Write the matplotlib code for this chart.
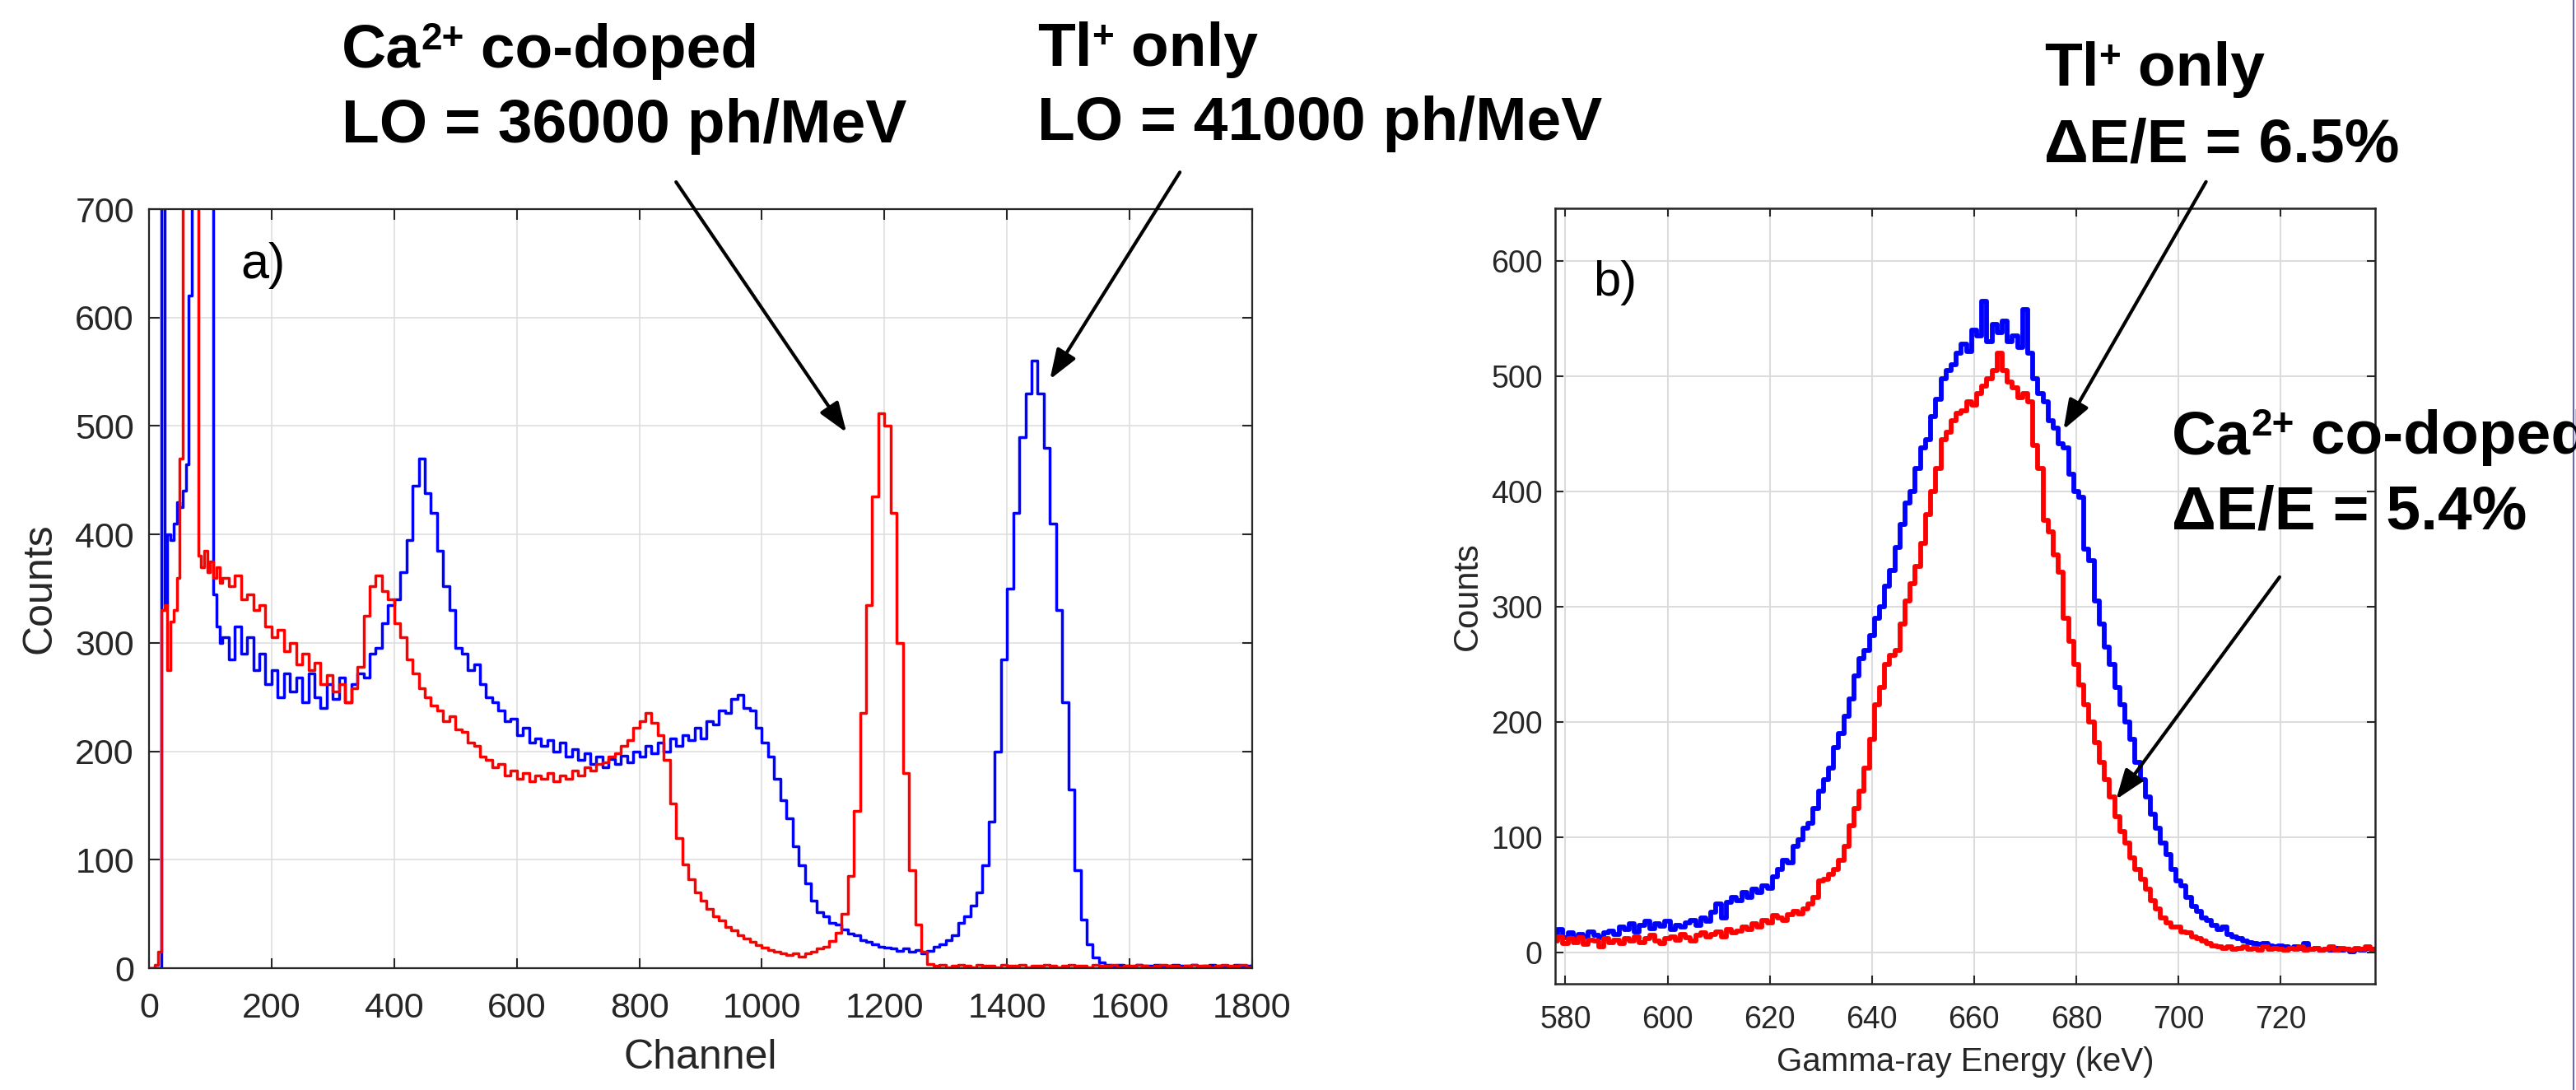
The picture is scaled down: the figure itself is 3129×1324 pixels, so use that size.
import numpy as np
import matplotlib
matplotlib.use('Agg')
import matplotlib.pyplot as plt
from matplotlib.lines import Line2D

W, H, DPI = 3129, 1324, 100

# ---------------- panel a) : pulse-height spectra vs channel ----------------
ch_fine = np.arange(0, 120, 5)
ch_coarse = np.arange(120, 1801, 10)
channel = np.concatenate([ch_fine, ch_coarse])

tl_fine = [0, 0, 0, 0, 720, 335, 400, 395, 410, 430, 425, 440, 465, 620, 760, 780,
           790, 785, 775, 770, 740, 345, 315, 300]
tl_coarse = [305, 285, 315, 290, 305, 275, 290, 262, 275, 250, 272, 255, 268, 245, 272, 250,
             240, 262, 248, 268, 245, 262, 272, 268, 290, 295, 318, 335, 340, 365, 395, 445,
             470, 438, 420, 385, 352, 330, 295, 290, 275, 280, 262, 250, 245, 238, 228, 230,
             215, 222, 208, 212, 205, 210, 200, 208, 195, 202, 192, 198, 188, 195, 185, 193,
             188, 196, 190, 200, 195, 205, 198, 208, 200, 212, 205, 215, 210, 222, 212, 228,
             225, 238, 235, 248, 252, 240, 238, 222, 208, 195, 175, 155, 138, 112, 95, 78,
             62, 52, 48, 42, 40, 36, 32, 30, 26, 24, 22, 20, 19, 18, 16, 18,
             15, 17, 14, 16, 20, 22, 26, 30, 42, 48, 58, 70, 95, 135, 200, 285,
             350, 420, 490, 530, 560, 530, 480, 410, 330, 245, 165, 90, 45, 22, 10, 5,
             3, 2, 3, 2, 1, 3, 2, 2, 3, 1, 2, 3, 2, 2, 3, 1,
             2, 3, 2, 2, 1, 3, 2, 2, 3]
ca_fine = [0, 0, 3, 15, 330, 335, 275, 320, 330, 360, 470, 720, 780, 790, 770, 720,
           380, 370, 385, 365, 375, 360, 370, 355]
ca_coarse = [360, 352, 362, 340, 345, 330, 335, 315, 305, 312, 292, 300, 280, 290, 275, 282,
             262, 270, 255, 262, 245, 258, 278, 325, 352, 362, 348, 340, 318, 305, 285, 272,
             258, 250, 242, 238, 228, 232, 220, 218, 208, 205, 195, 192, 185, 188, 178, 182,
             175, 180, 172, 178, 175, 180, 172, 178, 175, 182, 178, 185, 182, 188, 190, 195,
             198, 205, 210, 222, 228, 235, 226, 215, 192, 152, 120, 96, 82, 70, 62, 55,
             48, 44, 38, 35, 30, 27, 24, 21, 19, 17, 15, 14, 12, 14, 11, 14,
             15, 18, 20, 25, 33, 50, 85, 145, 235, 335, 435, 512, 500, 420, 300, 180,
             90, 40, 15, 4, 2, 3, 1, 2, 3, 2, 1, 3, 2, 2, 1, 3,
             2, 2, 3, 1, 2, 2, 3, 2, 1, 2, 3, 2, 2, 1, 3, 2,
             2, 3, 1, 2, 2, 3, 2, 1, 2, 3, 2, 2, 1, 2, 3, 2,
             2, 1, 2, 3, 2, 2, 3, 1, 2]
tl_counts_a = tl_fine + tl_coarse
ca_counts_a = ca_fine + ca_coarse

# ---------------- panel b) : calibrated 662 keV photopeak ----------------
energy = np.arange(578, 739)
tl_counts_b = [15, 20, 13, 17, 12, 16, 14, 18, 15, 13, 17, 19, 16, 22, 20, 25,
               18, 24, 27, 21, 25, 23, 27, 20, 24, 22, 26, 28, 24, 30, 27, 35,
               42, 30, 44, 48, 45, 52, 48, 55, 52, 58, 56, 66, 72, 80, 78, 92,
               98, 108, 112, 125, 140, 150, 160, 178, 190, 205, 220, 240, 255, 262, 275, 290,
               300, 318, 332, 352, 372, 390, 400, 420, 438, 445, 465, 480, 498, 505, 510, 520,
               528, 522, 540, 535, 565, 530, 545, 538, 548, 530, 535, 525, 558, 520, 498, 485,
               478, 462, 455, 442, 438, 415, 400, 395, 350, 340, 305, 285, 265, 250, 230, 215,
               200, 185, 165, 150, 135, 120, 108, 95, 85, 72, 62, 58, 48, 40, 36, 30,
               28, 24, 20, 22, 16, 14, 12, 10, 9, 8, 7, 8, 6, 5, 6, 5,
               4, 5, 4, 8, 3, 4, 2, 3, 2, 4, 2, 3, 1, 3, 2, 4,
               3]
ca_counts_b = [10, 14, 8, 12, 9, 13, 7, 11, 10, 5, 12, 9, 11, 8, 12, 10,
               14, 9, 12, 15, 10, 8, 12, 14, 11, 16, 13, 10, 15, 17, 14, 16,
               18, 14, 20, 17, 19, 22, 20, 25, 22, 28, 26, 32, 30, 28, 33, 36,
               34, 38, 42, 48, 62, 64, 68, 72, 80, 92, 110, 125, 140, 160, 185, 215,
               230, 250, 258, 262, 285, 305, 320, 335, 355, 380, 400, 420, 445, 452, 462, 468,
               470, 478, 475, 485, 492, 498, 505, 520, 505, 495, 490, 482, 485, 478, 440, 420,
               375, 365, 345, 330, 290, 270, 250, 232, 215, 200, 182, 165, 150, 135, 118, 105,
               95, 82, 72, 64, 55, 45, 38, 30, 26, 22, 22, 18, 17, 14, 12, 10,
               8, 6, 5, 4, 5, 3, 4, 5, 3, 4, 2, 5, 3, 4, 3, 2,
               4, 3, 5, 2, 3, 4, 2, 3, 5, 2, 4, 3, 2, 4, 3, 5,
               3]

a_xticks = np.arange(0, 1801, 200)
a_yticks = np.arange(0, 701, 100)
b_xticks = np.arange(580, 721, 20)
b_yticks = np.arange(0, 601, 100)

n_a = min(len(channel), len(tl_counts_a), len(ca_counts_a))
n_b = min(len(energy), len(tl_counts_b), len(ca_counts_b))

# ---------------- figure ----------------
plt.rcParams['font.family'] = ['Liberation Sans', 'DejaVu Sans']
fig = plt.figure(figsize=(W / DPI, H / DPI), dpi=DPI)
fig.patch.set_facecolor('white')
renderer = fig.canvas.get_renderer()


def px_rect(x0, y0, x1, y1):
    return [x0 / W, 1 - y1 / H, (x1 - x0) / W, (y1 - y0) / H]


TXT = '#262626'
BLUE = '#0000ff'
RED = '#ff0000'

axA = fig.add_axes(px_rect(181, 254, 1521, 1176))
axB = fig.add_axes(px_rect(1889, 253, 2885, 1195))

# panel a
axA.step(channel[:n_a], tl_counts_a[:n_a], where='post', color=BLUE, lw=2.5)
axA.step(channel[:n_a], ca_counts_a[:n_a], where='post', color=RED, lw=2.5)
axA.set_xlim(0, 1800)
axA.set_ylim(0, 700)
axA.set_xticks(a_xticks)
axA.set_yticks(a_yticks)
axA.grid(True, color='#dcdcdc', lw=1.1)
axA.set_axisbelow(True)
axA.tick_params(direction='in', top=True, right=True, length=9, width=1.5,
                colors=TXT, labelsize=31)
axA.tick_params(axis='x', pad=21)
axA.tick_params(axis='y', pad=13)
axA.set_xlabel('Channel', fontsize=36, color=TXT, labelpad=12)
axA.set_ylabel('Counts', fontsize=36, color=TXT, labelpad=14)
for s in axA.spines.values():
    s.set_color(TXT)
    s.set_linewidth(1.6)
axA.text(150, 648, 'a)', fontsize=44, color='black', ha='left', va='center')

# panel b
axB.step(energy[:n_b], tl_counts_b[:n_b], where='mid', color=BLUE, lw=4.2)
axB.step(energy[:n_b], ca_counts_b[:n_b], where='mid', color=RED, lw=4.2)
axB.set_xlim(578, 738.5)
axB.set_ylim(-27, 646)
axB.set_xticks(b_xticks)
axB.set_yticks(b_yticks)
axB.grid(True, color='#dcdcdc', lw=1.5)
axB.set_axisbelow(True)
axB.tick_params(direction='in', top=True, right=True, length=7, width=1.5,
                colors=TXT, labelsize=27)
axB.tick_params(axis='x', pad=19)
axB.tick_params(axis='y', pad=11)
axB.set_xlabel('Gamma-ray Energy (keV)', fontsize=29, color=TXT, labelpad=10)
axB.set_ylabel('Counts', fontsize=30, color=TXT, labelpad=6)
for s in axB.spines.values():
    s.set_color(TXT)
    s.set_linewidth(1.8)
axB.text(585.5, 581, 'b)', fontsize=43, color='black', ha='left', va='center')

# annotation arrows
ARROW = dict(arrowstyle='-|>,head_length=1.1,head_width=0.4', color='black',
             lw=3, shrinkA=0, shrinkB=0, mutation_scale=20)


def arrow(ax, tip, tail):
    ax.annotate('', xy=tip, xytext=tail, xycoords='data', textcoords='data',
                arrowprops=ARROW, annotation_clip=False)


arrow(axA, (1138, 494), (860, 725))
arrow(axA, (1470, 543), (1682, 734))
arrow(axB, (677.5, 454), (705.4, 669))
arrow(axB, (687.8, 133), (719.8, 326))

# annotation texts (laid out piece by piece so superscripts sit tight)
BIG = 54
SUP = 33
RISE = 22


def rich(x, y, parts):
    cx = x
    for s, size, rise in parts:
        t = fig.text(cx / W, 1 - (y - rise) / H, s, fontsize=size,
                     fontweight='bold', color='black', ha='left', va='baseline')
        cx += t.get_window_extent(renderer=renderer).width


def ca_line(x, y):
    rich(x, y, [('Ca', BIG, 0), ('2+', SUP, RISE), (' co-doped', BIG, 0)])


def tl_line(x, y):
    rich(x, y, [('Tl', BIG, 0), ('+', SUP, RISE), (' only', BIG, 0)])


ca_line(415, 82)
rich(415, 173, [('LO = 36000 ph/MeV', BIG, 0)])
tl_line(1260, 80)
rich(1260, 170, [('LO = 41000 ph/MeV', BIG, 0)])
tl_line(2483, 104)
rich(2483, 196, [('\u0394E/E = 6.5%', BIG, 0)])
ca_line(2638, 551)
rich(2638, 643, [('\u0394E/E = 5.4%', BIG, 0)])

# slide border at right edge
fig.add_artist(Line2D([3126 / W, 3126 / W], [0, 1], transform=fig.transFigure,
                      color='#6a6ab8', lw=1.5))

fig.savefig('out.png', dpi=DPI, facecolor='white')
